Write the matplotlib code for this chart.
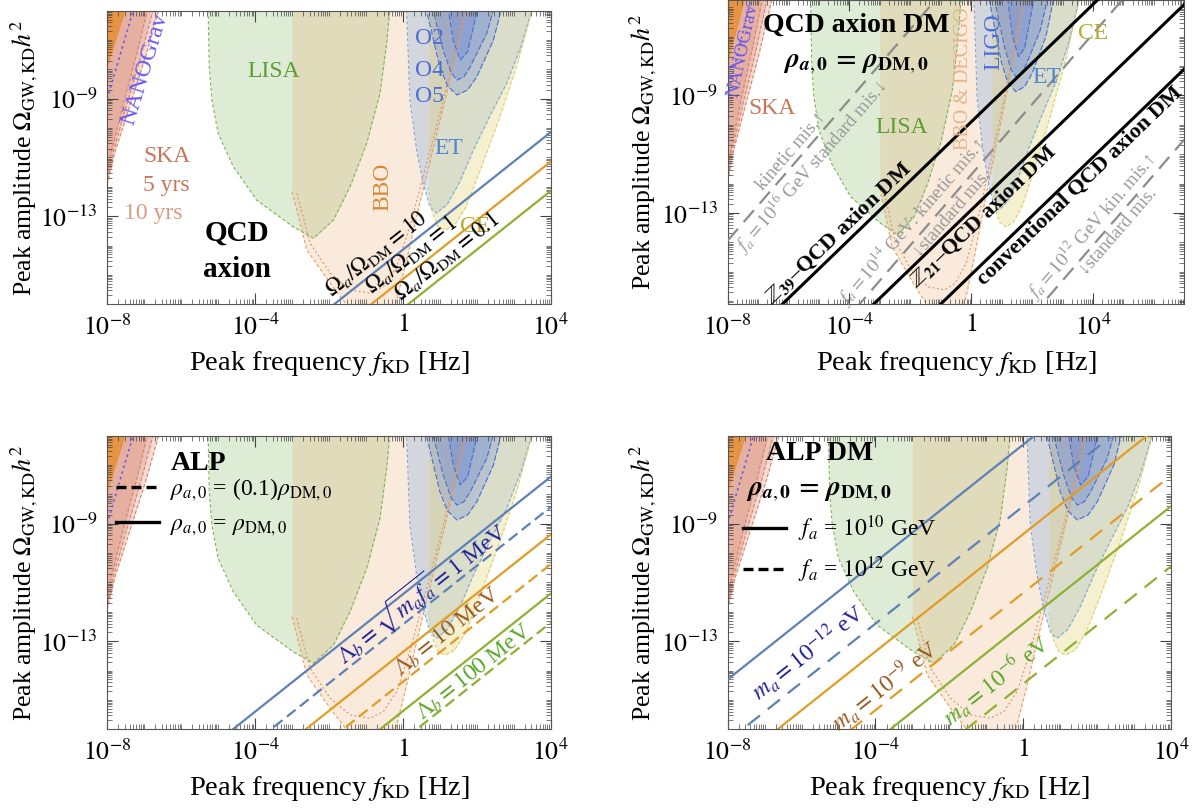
import matplotlib.pyplot as plt
import numpy as np
from matplotlib.lines import Line2D
from matplotlib.ticker import FixedLocator, FuncFormatter, LogLocator, NullFormatter
from matplotlib.transforms import offset_copy

plt.rcParams["font.family"] = ["Liberation Serif", "DejaVu Serif"]
plt.rcParams["mathtext.fontset"] = "stix"

BLUE, ORANGE, GREEN = "#5E81B5", "#E19C24", "#8FB032"

# --- detector regions: log10 f [Hz] and log10 Omega h^2 along the lower edge ---
NANOGRAV_LF = [-8.4, -8.0, -7.52, -7.4]
NANOGRAV_LO = [-9.5, -7.9, -6.0, -5.5]
NANOGRAV_PLI_LF = [-8.05, -7.88, -7.30, -7.18]
NANOGRAV_PLI_LO = [-9.2, -8.47, -6.0, -5.5]

SKA_LO = [-13.2, -11.9, -10.8, -9.04, -7.5, -5.5]
SKA_LF_OUTER = [-8.3, -8.0, -7.79, -7.34, -6.95, -6.5]
SKA_LF_MID = [-8.3, -8.02, -7.84, -7.44, -7.08, -6.66]
SKA_LF_INNER = [-8.3, -8.04, -7.89, -7.54, -7.21, -6.82]

LISA_LF = [-5.28, -5.24, -5.17, -5.0, -4.59, -3.96, -2.97, -2.42, -1.88, -1.43, -0.98, -0.62, -0.44, -0.32]
LISA_LO = [-5.5, -7.91, -9.04, -10.18, -11.31, -12.45, -13.36, -13.75, -13.13, -11.99, -10.52, -8.81, -7.11, -5.5]

BBO_LF = [-3.0, -2.6, -1.97, -1.52, -0.9, -0.2, 0.1, 0.45, 0.8, 1.15, 1.45, 1.8]
BBO_LO = [-12.16, -14.15, -15.28, -16.02, -16.6, -16.0, -14.5, -12.6, -10.8, -9.0, -7.4, -5.5]
DECIGO_LF = [-2.87, -2.51, -1.97, -1.43, -0.89, -0.53, -0.17, 0.2, 0.6, 1.0, 1.4, 1.7]
DECIGO_LO = [-12.22, -13.92, -14.94, -15.51, -15.62, -15.40, -14.72, -13.3, -11.4, -9.5, -7.5, -5.5]

ET_LF = [0.08, 0.10, 0.19, 0.37, 0.55, 0.73, 0.91, 1.2, 1.55, 1.91, 2.35, 2.81, 3.2, 3.6]
ET_LO = [-5.5, -6.0, -9.04, -10.74, -11.88, -12.68, -12.9, -12.6, -11.8, -10.74, -9.6, -8.47, -7.2, -5.5]

CE_LF = [0.69, 0.8, 0.95, 1.15, 1.4, 1.7, 2.1, 2.6, 3.1, 3.6]
CE_LO = [-12.0, -12.9, -13.35, -13.47, -13.3, -12.7, -11.4, -9.7, -7.8, -5.5]

O5_LF = [0.55, 0.64, 1.0, 1.2, 1.46, 1.75, 2.0, 2.45, 2.75]
O5_LO = [-5.5, -6.0, -7.91, -8.55, -8.87, -8.7, -8.25, -7.0, -5.5]
O4_LF = [0.75, 0.82, 1.09, 1.3, 1.46, 1.65, 1.82, 2.27, 2.55]
O4_LO = [-5.5, -6.0, -7.34, -8.1, -8.36, -8.25, -7.91, -6.77, -5.5]
O2_LF = [1.18, 1.23, 1.36, 1.55, 1.75, 1.91, 2.1]
O2_LO = [-5.5, -6.0, -7.0, -7.68, -7.4, -6.54, -5.5]

# --- QCD axion, Omega_a/Omega_DM lines (Omega h^2 proportional to f) ---
QCD_RATIO = [10, 1, 0.1]
QCD_RATIO_TEXT = ["10", "1", "0.1"]
QCD_NORM_LOG = -15.14          # log10 Omega h^2 at 1 Hz for Omega_a = Omega_DM
QCD_TEXT_LF = [-0.5, 0.45, 1.42]

# --- QCD axion DM models ---
DM_AMP = [-9.9, -12.9, -15.1]  # log10 Omega h^2 at 1 Hz
DM_TEXT = [r"$\mathbb{Z}_{\mathbf{39}}$–QCD axion DM",
           r"$\mathbb{Z}_{\mathbf{21}}$–QCD axion DM",
           "conventional QCD axion DM"]
DM_TEXT_LF = [-4.1, 0.1, 3.3]
DM_TEXT_SIDE = ["above", "below", "below"]

FA_AMP = [-4.34, -11.7, -18.9]
FA_SLOPE = 1.2
FA_TEXT_UP = ["kinetic mis.↑", r"$f_a=10^{14}$ GeV: kinetic mis.↑", r"$f_a=10^{12}$ GeV kin. mis.↑"]
FA_TEXT_UP_LF = [-5.65, -1.6, 4.3]
FA_TEXT_DOWN = [r"$f_a=10^{16}$ GeV standard mis.↓", "↓standard mis.", "↓standard mis."]
FA_TEXT_DOWN_LF = [-5.62, -0.9, 4.58]

# --- ALP, solid rho_a = rho_DM and dashed rho_a = 0.1 rho_DM ---
ALP_SOLID = [-11.4, -13.37, -15.38]
ALP_DASHED = [-12.43, -14.38, -16.37]
ALP_TEXT = [r"$\Lambda_b=\sqrt{m_a f_a}=1$ MeV", r"$\Lambda_b=10$ MeV", r"$\Lambda_b=100$ MeV"]
ALP_TEXT_POS = [(0.475, -11.33), (1.2, -12.68), (1.93, -14.04)]
ALP_TEXT_COLOR = ["#22229A", "#9A5A1E", "#5AA82A"]

# --- ALP DM, solid f_a = 1e10 GeV and dashed f_a = 1e12 GeV ---
ALPDM_SOLID = [-6.3, -9.35, -12.4]
ALPDM_DASHED = [-8.4, -11.35, -14.45]
ALPDM_TEXT = [r"$m_a=10^{-12}$ eV", r"$m_a=10^{-9}$ eV", r"$m_a=10^{-6}$ eV"]
ALPDM_TEXT_POS = [(-5.83, -13.36), (-3.76, -14.49), (-0.76, -14.32)]

RHO_EQ = r"$\mathbfit{\rho}_{\mathbfit{a},\mathbf{0}}\,\mathbf{=}\,\mathbfit{\rho}_{\mathbf{DM},\mathbf{0}}$"

W, H = 1199, 809


def px_axes(fig, left, top, right, bottom):
    return fig.add_axes([left / W, 1 - bottom / H, (right - left) / W, (bottom - top) / H])


def pow_label(v, _):
    e = int(round(np.log10(v)))
    return "$1$" if e == 0 else f"$10^{{{e}}}$"


def frame(ax, xlim, ylim, xlab_y, ylab_x):
    ax.set_xscale("log")
    ax.set_yscale("log")
    ax.set_xlim(*xlim)
    ax.set_ylim(*ylim)
    ax.xaxis.set_major_locator(FixedLocator([1e-8, 1e-4, 1.0, 1e4]))
    ax.yaxis.set_major_locator(FixedLocator([1e-13, 1e-9]))
    for axis in (ax.xaxis, ax.yaxis):
        axis.set_minor_locator(LogLocator(base=10, subs=np.arange(1, 10), numticks=400))
        axis.set_minor_formatter(NullFormatter())
        axis.set_major_formatter(FuncFormatter(pow_label))
    ax.tick_params(which="both", direction="in", top=True, right=True,
                   labelsize=18.5, pad=7, color="#444444")
    ax.tick_params(which="major", length=8, width=0.8)
    ax.tick_params(which="minor", length=3.5, width=0.5)
    for sp in ax.spines.values():
        sp.set_linewidth(0.8)
        sp.set_color("#555555")
    ax.set_xlabel(r"Peak frequency $f_{\mathrm{KD}}$ [Hz]", fontsize=20.5)
    ax.set_ylabel(r"Peak amplitude $\mathit{\Omega}_{\mathrm{GW,KD}}h^2$", fontsize=18.5)
    ax.xaxis.set_label_coords(0.5, xlab_y)
    ax.yaxis.set_label_coords(ylab_x, 0.5)


def fill_above(ax, lf, lo, color, alpha, ls=(0, (3, 2)), edge=True):
    f, om = 10.0 ** np.asarray(lf), 10.0 ** np.asarray(lo)
    ax.fill_between(f, om, 1e-3, color=color, alpha=alpha, lw=0, zorder=1)
    if edge:
        ax.plot(f, om, color=color, lw=0.8, ls=ls, zorder=1.5)


def fill_left(ax, lf, lo, color, alpha, ls=(0, (3, 2)), edge=True):
    f, om = 10.0 ** np.asarray(lf), 10.0 ** np.asarray(lo)
    ax.fill_betweenx(om, 1e-12, f, color=color, alpha=alpha, lw=0, zorder=1)
    if edge:
        ax.plot(f, om, color=color, lw=0.8, ls=ls, zorder=1.5)


def detectors(ax):
    fill_above(ax, LISA_LF, LISA_LO, "#7DB45A", 0.25)
    fill_above(ax, BBO_LF, BBO_LO, "#E8A060", 0.22)
    ax.plot(10.0 ** np.asarray(DECIGO_LF), 10.0 ** np.asarray(DECIGO_LO),
            color="#D89A70", lw=0.9, ls=(0, (1.5, 2)), zorder=1.5)
    fill_above(ax, ET_LF, ET_LO, "#7FA8E0", 0.3)
    fill_above(ax, CE_LF, CE_LO, "#DCD064", 0.3)
    for lf, lo in ((O5_LF, O5_LO), (O4_LF, O4_LO), (O2_LF, O2_LO)):
        fill_above(ax, lf, lo, "#4A6ED8", 0.22, ls=(0, (5, 2)))
    for lf in (SKA_LF_OUTER, SKA_LF_MID, SKA_LF_INNER):
        fill_left(ax, lf, SKA_LO, "#D9826A", 0.28)
    fill_left(ax, NANOGRAV_LF, NANOGRAV_LO, "#E8903A", 0.9, edge=False)
    ax.plot(10.0 ** np.asarray(NANOGRAV_PLI_LF), 10.0 ** np.asarray(NANOGRAV_PLI_LO),
            color="#6A5AEE", lw=1.2, ls=(0, (1.5, 2)), zorder=1.6)


def slope_angle(ax, slope=1.0):
    bb = ax.get_window_extent()
    lx, ly = np.log10(ax.get_xlim()), np.log10(ax.get_ylim())
    return np.degrees(np.arctan2(slope * bb.height / (ly[1] - ly[0]), bb.width / (lx[1] - lx[0])))


def power_line(ax, amp, slope=1.0, **kw):
    f = np.array(ax.get_xlim())
    ax.plot(f, 10.0 ** amp * f ** slope, zorder=3, **kw)


def line_text(ax, lf, amp, slope, s, side, gap=1.5, **kw):
    ang = slope_angle(ax, slope)
    t = np.radians(ang)
    sign = 1 if side == "above" else -1
    tr = offset_copy(ax.transData, fig=ax.figure, x=-sign * gap * np.sin(t),
                     y=sign * gap * np.cos(t), units="points")
    ax.text(10.0 ** lf, 10.0 ** (amp + slope * lf), s, transform=tr, rotation=ang,
            rotation_mode="anchor", ha="center", va="bottom" if side == "above" else "top",
            zorder=4, **kw)


def at(ax, lf, lo, s, **kw):
    ax.text(10.0 ** lf, 10.0 ** lo, s, ha="center", va="center", zorder=4, **kw)


fig = plt.figure(figsize=(W / 100, H / 100), dpi=100)
ax1 = px_axes(fig, 107.3, 10.7, 550.7, 304.3)
ax2 = px_axes(fig, 727.7, 0.0, 1184.3, 304.3)
ax3 = px_axes(fig, 107.3, 435.7, 550.7, 729.3)
ax4 = px_axes(fig, 727.7, 435.7, 1171.1, 729.3)

frame(ax1, (1e-8, 1e4), (1e-16, 1e-6), -0.152, -0.152)
frame(ax2, (1e-8, 1e7), (10 ** -16.11, 10 ** -5.75), -0.146, -0.150)
frame(ax3, (1e-8, 1e4), (1e-16, 1e-6), -0.152, -0.152)
frame(ax4, (1e-8, 1e4), (1e-16, 1e-6), -0.152, -0.155)
for ax in (ax1, ax2, ax3, ax4):
    detectors(ax)

# detector names
lab = dict(fontsize=17)
at(ax1, -6.98, -8.0, "NANOGrav", color="#6A5AEE", rotation=73, **lab)
at(ax1, -6.39, -10.97, "SKA", color="#C9765A", **lab)
at(ax1, -6.39, -11.94, "5 yrs", color="#C9765A", **lab)
at(ax1, -6.76, -12.9, "10 yrs", color="#D89A80", **lab)
at(ax1, -3.51, -8.08, "LISA", color="#5E9E35", **lab)
at(ax1, -0.53, -11.99, "BBO", color="#D8883A", rotation=90, **lab)
at(ax1, 1.23, -10.69, "ET", color="#4F86D0", **lab)
at(ax1, 1.95, -13.36, "CE", color="#B8A830", **lab)
for lo, s in zip([-6.94, -8.02, -8.93], ["O2", "O4", "O5"]):
    at(ax1, 0.73, lo, s, color="#4A6ED8", **lab)
at(ax1, -4.5, -13.58, "QCD", fontsize=21, fontweight="bold")
at(ax1, -4.5, -14.83, "axion", fontsize=21, fontweight="bold")

at(ax2, -7.5, -7.45, "NANOGrav", color="#6A5AEE", rotation=78, fontsize=14)
at(ax2, -6.56, -9.43, "SKA", color="#C9765A", **lab)
at(ax2, -2.28, -10.08, "LISA", color="#5E9E35", **lab)
at(ax2, -0.27, -8.43, "BBO & DECIGO", color="#E8B48A", rotation=90, fontsize=14.5)
at(ax2, 0.73, -7.18, "LIGO", color="#4A6ED8", rotation=90, **lab)
at(ax2, 2.49, -8.38, "ET", color="#4F86D0", **lab)
at(ax2, 4.0, -6.9, "CE", color="#B8A830", **lab)
at(ax2, -3.79, -6.61, "QCD axion DM", fontsize=20, fontweight="bold")
at(ax2, -3.79, -7.92, RHO_EQ, fontsize=20)

# QCD axion lines
for ratio, txt, lf, c in zip(QCD_RATIO, QCD_RATIO_TEXT, QCD_TEXT_LF, [BLUE, ORANGE, GREEN]):
    amp = QCD_NORM_LOG + np.log10(ratio)
    power_line(ax1, amp, color=c, lw=1.6)
    line_text(ax1, lf, amp, 1.0,
              rf"$\mathit{{\Omega}}_a/\mathit{{\Omega}}_{{\mathrm{{DM}}}}={txt}$", "above", fontsize=16.5)

# QCD axion DM lines
for amp, upl, upt, dnl, dnt in zip(FA_AMP, FA_TEXT_UP_LF, FA_TEXT_UP, FA_TEXT_DOWN_LF, FA_TEXT_DOWN):
    power_line(ax2, amp, FA_SLOPE, color="#8C8C8C", lw=1.6, ls=(0, (7, 4)))
    line_text(ax2, upl, amp, FA_SLOPE, upt, "above", fontsize=13.5, color="#9A9A9A")
    line_text(ax2, dnl, amp, FA_SLOPE, dnt, "below", fontsize=13.5, color="#9A9A9A")
for amp, txt, lf, side in zip(DM_AMP, DM_TEXT, DM_TEXT_LF, DM_TEXT_SIDE):
    power_line(ax2, amp, color="black", lw=2.2)
    line_text(ax2, lf, amp, 1.0, txt, side, fontsize=16, fontweight="bold")

# ALP lines
for sol, das, txt, pos, c, tc in zip(ALP_SOLID, ALP_DASHED, ALP_TEXT, ALP_TEXT_POS,
                                     [BLUE, ORANGE, GREEN], ALP_TEXT_COLOR):
    power_line(ax3, sol, color=c, lw=1.6)
    power_line(ax3, das, color=c, lw=1.6, ls=(0, (5, 2.5)))
    at(ax3, pos[0], pos[1], txt, color=tc, fontsize=17, rotation=slope_angle(ax3),
       rotation_mode="anchor")
at(ax3, -5.54, -6.94, "ALP", fontsize=20, fontweight="bold")
ax3.legend([Line2D([], [], color="black", lw=2.4, ls=(0, (3, 1.5))),
            Line2D([], [], color="black", lw=2.4)],
           [r"$\rho_{a,0}$ = (0.1)$\rho_{\mathrm{DM},0}$", r"$\rho_{a,0}$ = $\rho_{\mathrm{DM},0}$"],
           loc="upper left", bbox_to_anchor=(0.02, 0.86), frameon=False, fontsize=17,
           handlelength=1.8, handletextpad=0.5, labelspacing=0.45, borderpad=0, borderaxespad=0)

# ALP DM lines
for sol, das, txt, pos, c, tc in zip(ALPDM_SOLID, ALPDM_DASHED, ALPDM_TEXT, ALPDM_TEXT_POS,
                                     [BLUE, ORANGE, GREEN], ALP_TEXT_COLOR):
    power_line(ax4, sol, color=c, lw=1.6)
    power_line(ax4, das, color=c, lw=1.6, ls=(0, (7, 4.5)))
    at(ax4, pos[0], pos[1], txt, color=tc, fontsize=17, rotation=slope_angle(ax4),
       rotation_mode="anchor")
at(ax4, -5.52, -6.6, "ALP DM", fontsize=20, fontweight="bold")
at(ax4, -5.52, -7.9, RHO_EQ, fontsize=20)
ax4.legend([Line2D([], [], color="black", lw=2.4),
            Line2D([], [], color="black", lw=2.4, ls=(0, (3, 1.5)))],
           [r"$f_a$ = $10^{10}$ GeV", r"$f_a$ = $10^{12}$ GeV"],
           loc="upper left", bbox_to_anchor=(0.035, 0.735), frameon=False, fontsize=17,
           handlelength=1.8, handletextpad=0.5, labelspacing=0.45, borderpad=0, borderaxespad=0)

fig.savefig("out.png", dpi=100)
